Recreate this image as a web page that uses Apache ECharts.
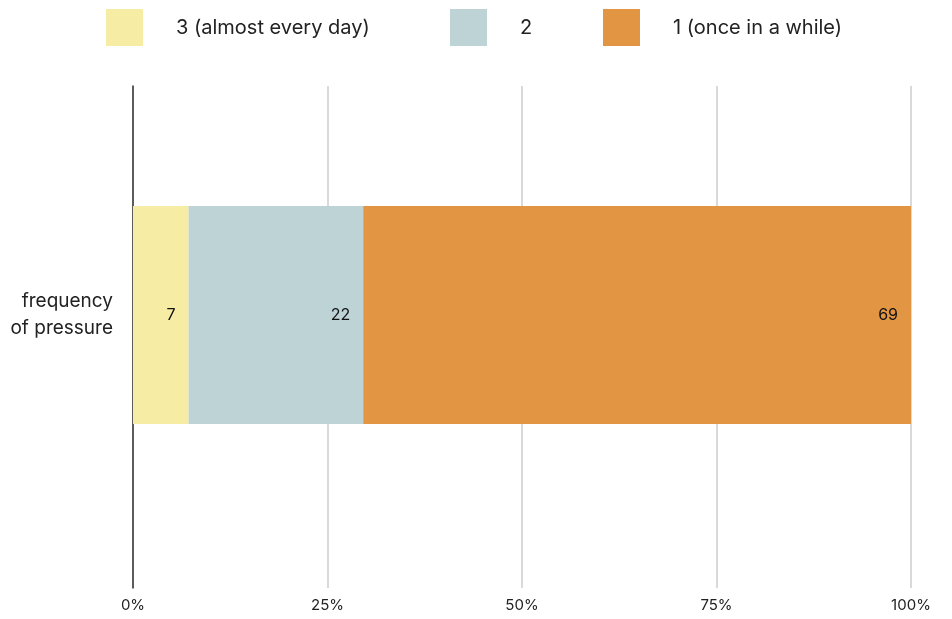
<!DOCTYPE html>
<html>
<head>
<meta charset="utf-8">
<script src="https://cdn.jsdelivr.net/npm/echarts@6/dist/echarts.min.js"></script>
<style>html,body{margin:0;padding:0;background:#fff}#c{width:952px;height:619px}</style>
</head>
<body>
<div id="c"></div>
<script>
const categories = ['frequency\nof pressure'];
const seriesNames = ['3 (almost every day)', '2', '1 (once in a while)'];
const values3 = [7];
const values2 = [22];
const values1 = [69];
const tickLabels = ['0%', '25%', '50%', '75%', '100%'];
const colors = ['#F6ECA4', '#BDD3D6', '#E29543'];

const raw = [values3, values2, values1];
const totals = categories.map((_, i) => raw.reduce((s, arr) => s + arr[i], 0));
const FONT = 'Inter';
const legendLefts = [106, 450, 603];

const chart = echarts.init(document.getElementById('c'));
chart.setOption({
  animation: false,
  color: colors,
  textStyle: { fontFamily: FONT },
  legend: seriesNames.map((n, k) => ({
    top: 4,
    left: legendLefts[k] - 5,
    itemWidth: 37,
    itemHeight: 37,
    icon: 'rect',
    selectedMode: false,
    textStyle: { fontSize: 20, color: '#222', fontFamily: FONT, padding: [0, 0, 0, 28] },
    data: [n]
  })),
  grid: [
    { left: 133, right: 41, top: 86, bottom: 31, containLabel: false },
    { left: 133, right: 41, top: 86, bottom: 75, containLabel: false }
  ],
  xAxis: [{
    gridIndex: 0,
    type: 'value',
    min: 0, max: 100, interval: 25,
    axisLine: { show: false },
    axisTick: { show: false },
    splitLine: { show: true, lineStyle: { color: '#cccccc', width: 1.5 } },
    axisLabel: {
      fontSize: 15, color: '#222', margin: 10, fontFamily: FONT,
      formatter: (v) => tickLabels[Math.round(v / 25)]
    }
  }, {
    gridIndex: 1,
    type: 'value',
    min: 0, max: 100, interval: 25,
    show: false
  }],
  yAxis: [{
    gridIndex: 0,
    type: 'category',
    data: [''],
    axisLine: { show: true, lineStyle: { color: '#333', width: 1.5 } },
    axisTick: { show: false },
    axisLabel: { show: false }
  }, {
    gridIndex: 1,
    type: 'category',
    data: categories,
    axisLine: { show: false },
    axisTick: { show: false },
    axisLabel: { fontSize: 19, color: '#222', margin: 20, lineHeight: 27, align: 'right', fontFamily: FONT }
  }],
  series: raw.map((arr, k) => ({
    name: seriesNames[k],
    type: 'bar',
    xAxisIndex: 1,
    yAxisIndex: 1,
    stack: 'total',
    barWidth: '47.6%',
    itemStyle: { color: colors[k] },
    label: {
      show: true,
      position: 'insideRight',
      distance: 13,
      fontSize: 16,
      color: '#111',
      fontFamily: FONT,
      formatter: (p) => String(arr[p.dataIndex])
    },
    data: arr.map((v, i) => v / totals[i] * 100)
  }))
});
</script>
</body>
</html>
